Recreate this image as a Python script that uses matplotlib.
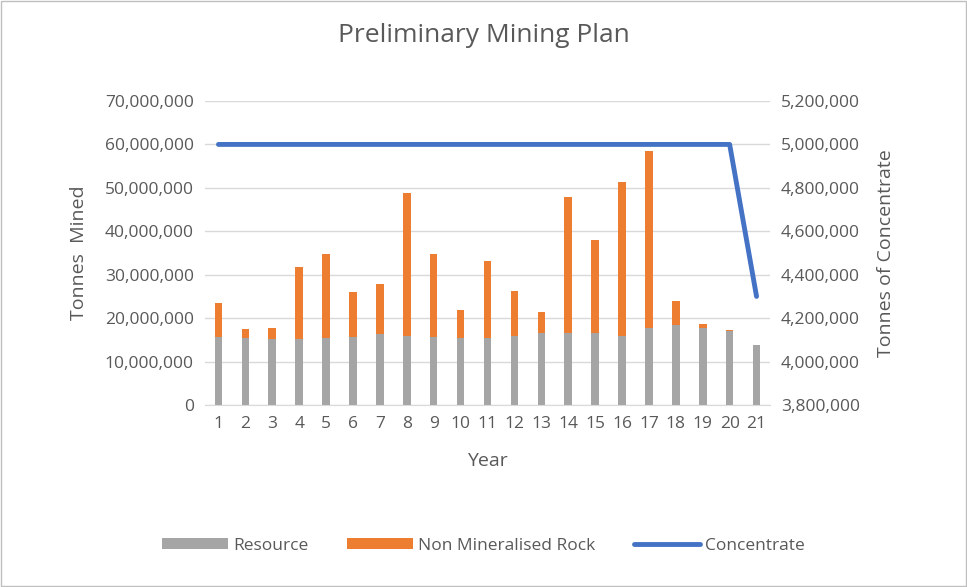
import numpy as np
import matplotlib.pyplot as plt
from matplotlib.ticker import FuncFormatter

years = list(range(1, 22))
resource = [15.7, 15.5, 15.1, 15.1, 15.5, 15.7, 16.3, 16.0, 15.7, 15.5, 15.5,
            16.0, 16.6, 16.6, 16.6, 16.0, 17.8, 18.4, 17.8, 17.0, 13.9]
total = [23.4, 17.5, 17.8, 31.7, 34.8, 26.0, 27.8, 48.9, 34.8, 21.9, 33.1,
         26.3, 21.3, 47.8, 38.1, 51.3, 58.6, 24.0, 18.7, 17.2, 13.9]
non_mineral = [t - r for t, r in zip(total, resource)]
concentrate = [5000000] * 20 + [4300000]

resource = np.array(resource) * 1e6
non_mineral = np.array(non_mineral) * 1e6

plt.rcParams['font.family'] = 'Open Sans'
txt = '#595959'
fig = plt.figure(figsize=(9.67, 5.87), dpi=100)
ax = fig.add_axes([205 / 967, 182 / 587, 565 / 967, 304 / 587])
ax2 = ax.twinx()

x = np.arange(len(years))
ax.bar(x, resource, width=0.28, color='#a5a5a5', label='Resource', zorder=2)
ax.bar(x, non_mineral, width=0.28, bottom=resource, color='#ed7d31',
       label='Non Mineralised Rock', zorder=2)
ax2.plot(x, concentrate, color='#4472c4', lw=3.5, label='Concentrate',
         solid_capstyle='round')

ax.set_ylim(0, 70e6)
ax.set_yticks(np.arange(0, 70e6 + 1, 10e6))
ax2.set_ylim(3.8e6, 5.2e6)
ax2.set_yticks(np.arange(3.8e6, 5.2e6 + 1, 0.2e6))
fmt = FuncFormatter(lambda v, p: f'{v:,.0f}')
ax.yaxis.set_major_formatter(fmt)
ax2.yaxis.set_major_formatter(fmt)
ax.set_xlim(-0.5, len(years) - 0.5)
ax.set_xticks(x)
ax.set_xticklabels([str(y) for y in years])

ax.grid(axis='y', color='#d9d9d9', lw=1, zorder=0)
for a in (ax, ax2):
    for s in a.spines.values():
        s.set_visible(False)
    a.tick_params(length=0, labelsize=12.5, colors=txt, pad=8)
ax.spines['bottom'].set_visible(True)
ax.spines['bottom'].set_color('#d9d9d9')

ax.set_ylabel('Tonnes  Mined', fontsize=14, color=txt, labelpad=12)
ax2.set_ylabel('Tonnes of Concentrate', fontsize=14, color=txt, labelpad=12)
ax.set_xlabel('Year', fontsize=14, color=txt, labelpad=14)
fig.suptitle('Preliminary Mining Plan', fontsize=19, color=txt, y=0.96)

h1, l1 = ax.get_legend_handles_labels()
h2, l2 = ax2.get_legend_handles_labels()
fig.legend(h1 + h2, l1 + l2, loc='center', bbox_to_anchor=(0.5, 1 - 546 / 587),
           ncol=3, frameon=False, fontsize=12.5, labelcolor=txt, handlelength=3.8,
           handleheight=0.6, handletextpad=0.3, columnspacing=2.2)

fig.patches.append(plt.Rectangle((0.001, 0.001), 0.998, 0.998, transform=fig.transFigure,
                                 fill=False, edgecolor='#bfbfbf', lw=1))
fig.savefig('out.png', dpi=100)
